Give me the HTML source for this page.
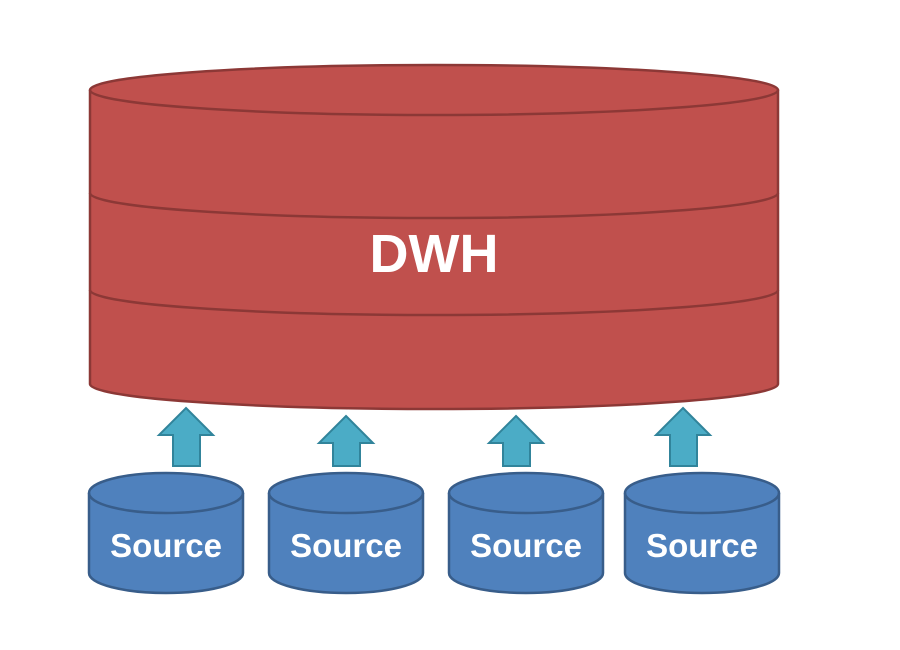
<!DOCTYPE html>
<html><head><style>body{margin:0;background:#fff}svg{display:block}</style></head><body>
<svg width="900" height="650" viewBox="0 0 900 650" xmlns="http://www.w3.org/2000/svg">
<g stroke="#8c3836" stroke-width="2.5" fill="#c0504d">
<path d="M90,90 L90,384 A344,25 0 0 0 778,384 L778,90 A344,25 0 0 0 90,90 Z"/>
<path d="M90,90 A344,25 0 0 0 778,90" fill="none"/>
<path d="M90,193 A344,25 0 0 0 778,193" fill="none"/>
<path d="M90,290 A344,25 0 0 0 778,290" fill="none"/>
</g>
<text x="434" y="272" text-anchor="middle" font-family="Liberation Sans, sans-serif" font-weight="bold" font-size="54" fill="#fff">DWH</text>
<g fill="#4bacc6" stroke="#31849b" stroke-width="2">
<path d="M186,408 L213,435 L200,435 L200,466 L173,466 L173,435 L159,435 Z"/>
<path d="M346,416 L373,443 L360,443 L360,466 L333,466 L333,443 L319,443 Z"/>
<path d="M516,416 L543,443 L530,443 L530,466 L503,466 L503,443 L489,443 Z"/>
<path d="M683,408 L710,435 L697,435 L697,466 L670,466 L670,435 L656,435 Z"/>
</g>
<g stroke="#385d8a" stroke-width="2.5" fill="#4f81bd">
<path d="M89,493 L89,573 A77,20 0 0 0 243,573 L243,493 A77,20 0 0 0 89,493 Z"/><path d="M89,493 A77,20 0 0 0 243,493" fill="none"/>
<path d="M269,493 L269,573 A77,20 0 0 0 423,573 L423,493 A77,20 0 0 0 269,493 Z"/><path d="M269,493 A77,20 0 0 0 423,493" fill="none"/>
<path d="M449,493 L449,573 A77,20 0 0 0 603,573 L603,493 A77,20 0 0 0 449,493 Z"/><path d="M449,493 A77,20 0 0 0 603,493" fill="none"/>
<path d="M625,493 L625,573 A77,20 0 0 0 779,573 L779,493 A77,20 0 0 0 625,493 Z"/><path d="M625,493 A77,20 0 0 0 779,493" fill="none"/>
</g>
<g font-family="Liberation Sans, sans-serif" font-weight="bold" font-size="33" fill="#fff" text-anchor="middle">
<text x="166" y="557">Source</text>
<text x="346" y="557">Source</text>
<text x="526" y="557">Source</text>
<text x="702" y="557">Source</text>
</g>
</svg>
</body></html>
